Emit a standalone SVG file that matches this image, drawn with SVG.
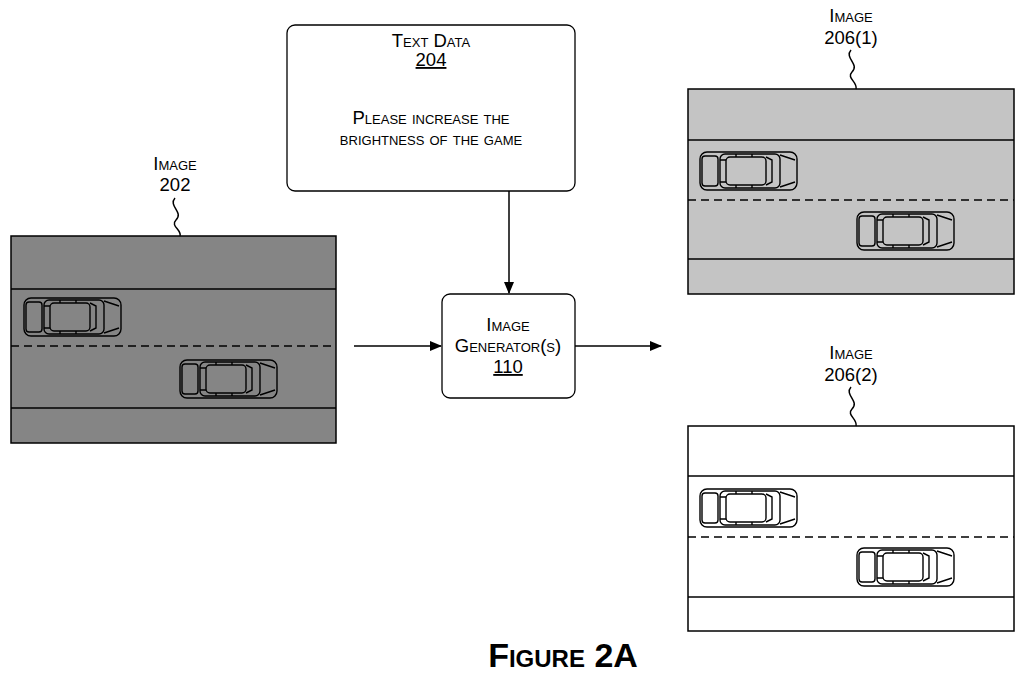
<svg xmlns="http://www.w3.org/2000/svg" width="1024" height="676" viewBox="0 0 1024 676">
<style>
text{font-family:"Liberation Sans",Arial,sans-serif;font-variant:small-caps;fill:#000;text-anchor:middle;font-size:18.5px}
.l{stroke:#000;stroke-width:1.5;fill:none}
.d{stroke:#000;stroke-width:1.3;stroke-dasharray:8,5;fill:none}
.box{fill:#fff;stroke:#000;stroke-width:1.3}
</style>
<defs>
<marker id="a" markerWidth="12" markerHeight="10" refX="11" refY="5" orient="auto" markerUnits="userSpaceOnUse"><path d="M0,0 L12,5 L0,10 z" fill="#000"/></marker>
<g id="car" fill="none" stroke="#000" stroke-width="1.4">
<rect x="0" y="0" width="97" height="38" rx="7"/>
<rect x="2" y="4" width="16" height="30" rx="3"/>
<rect x="20" y="2" width="60" height="34" rx="5"/>
<rect x="26" y="5" width="40" height="28" rx="4"/>
<path d="M66,5 L72,8 L72,30 L66,33 M80,3 L95,8 M80,35 L95,30 M20,8 L26,8 M20,30 L26,30 M36,2 L36,5 M52,2 L52,5 M36,33 L36,36 M52,33 L52,36"/>
</g>
</defs>
<g id="image202">
<rect x="11" y="236" width="325" height="207" fill="#858585" stroke="#000" stroke-width="1.5"/>
<line class="l" x1="11" y1="289" x2="336" y2="289"/>
<line class="d" x1="11" y1="346" x2="336" y2="346"/>
<line class="l" x1="11" y1="408" x2="336" y2="408"/>
<use href="#car" x="24" y="298"/><use href="#car" x="180" y="360"/>
<text x="175" y="170">Image</text><text x="175" y="191">202</text>
<path class="l" stroke-width="1" d="M175,198 C168,206 184,212 176,220 C170,226 182,230 180,236"/>
</g>
<g id="image206-1">
<rect x="688" y="89" width="326" height="205" fill="#c4c4c4" stroke="#000" stroke-width="1.5"/>
<line class="l" x1="688" y1="140" x2="1014" y2="140"/>
<line class="d" x1="688" y1="200" x2="1014" y2="200"/>
<line class="l" x1="688" y1="259" x2="1014" y2="259"/>
<use href="#car" x="700" y="152"/><use href="#car" x="857" y="212"/>
<text x="851" y="22">Image</text><text x="851" y="44">206(1)</text>
<path class="l" stroke-width="1" d="M851,50 C844,58 860,64 852,72 C846,78 858,82 856,89"/>
</g>
<g id="image206-2">
<rect x="688" y="426" width="326" height="205" fill="#fff" stroke="#000" stroke-width="1.5"/>
<line class="l" x1="688" y1="476" x2="1014" y2="476"/>
<line class="d" x1="688" y1="537" x2="1014" y2="537"/>
<line class="l" x1="688" y1="597" x2="1014" y2="597"/>
<use href="#car" x="700" y="489"/><use href="#car" x="857" y="548"/>
<text x="851" y="359">Image</text><text x="851" y="381">206(2)</text>
<path class="l" stroke-width="1" d="M851,387 C844,395 860,401 852,409 C846,415 858,419 856,426"/>
</g>
<g id="textdata">
<rect class="box" x="287" y="25" width="288" height="166" rx="8"/>
<text x="431" y="47">Text Data</text>
<text x="431" y="66" text-decoration="underline">204</text>
<text x="431" y="124">Please increase the</text>
<text x="431" y="145">brightness of the game</text>
</g>
<g id="generator">
<rect class="box" x="442" y="294" width="133" height="104" rx="8"/>
<text x="508" y="331">Image</text>
<text x="508" y="352">Generator(s)</text>
<text x="508" y="373" text-decoration="underline">110</text>
</g>
<g id="connectors">
<line class="l" stroke-width="1.3" x1="509" y1="191" x2="509" y2="293" marker-end="url(#a)"/>
<line class="l" stroke-width="1.3" x1="354" y1="346" x2="441" y2="346" marker-end="url(#a)"/>
<line class="l" stroke-width="1.3" x1="575" y1="346" x2="661" y2="346" marker-end="url(#a)"/>
</g>
<text x="563" y="667" style="font-size:34px;font-weight:bold">Figure 2A</text>
</svg>
